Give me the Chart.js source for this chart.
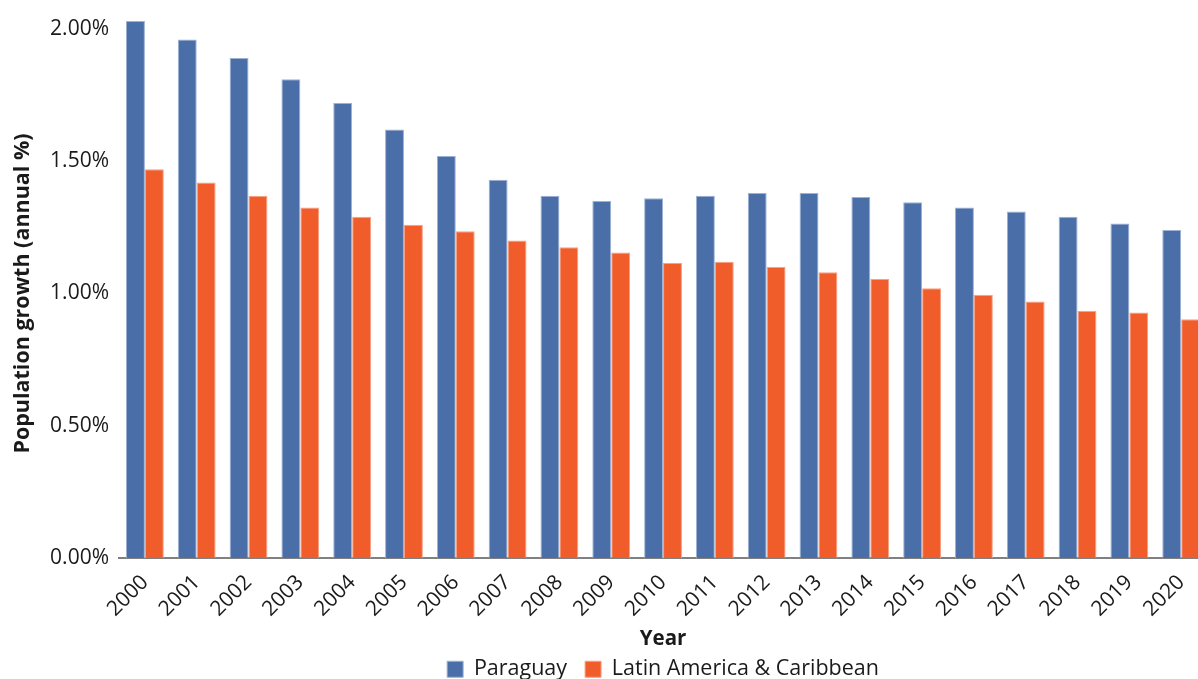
<!DOCTYPE html>
<html>
<head>
<meta charset="utf-8">
<script src="https://cdn.jsdelivr.net/npm/chart.js@4/dist/chart.umd.min.js"></script>
<style>
  html, body { margin: 0; padding: 0; background: #ffffff; overflow: hidden; width: 1198px; height: 679px; }
  #wrap { position: relative; width: 1211px; height: 690px; }
</style>
</head>
<body>
<div id="wrap"><canvas id="chart" width="1211" height="690"></canvas></div>
<script>
// Annual population growth, 2000–2020 (%)
const years = ['2000','2001','2002','2003','2004','2005','2006','2007','2008','2009','2010',
               '2011','2012','2013','2014','2015','2016','2017','2018','2019','2020'];
const paraguay = [2.03, 1.96, 1.89, 1.81, 1.72, 1.62, 1.52, 1.43, 1.37, 1.35, 1.36,
                  1.37, 1.38, 1.38, 1.365, 1.345, 1.325, 1.31, 1.29, 1.265, 1.24];
const latinAmerica = [1.47, 1.42, 1.37, 1.325, 1.29, 1.26, 1.235, 1.20, 1.175, 1.155, 1.115,
                      1.12, 1.10, 1.08, 1.055, 1.02, 0.995, 0.97, 0.935, 0.928, 0.903];
const yTicks = [0, 0.5, 1.0, 1.5, 2.0];

const FONT = '"Open Sans", "DejaVu Sans", sans-serif';
const TEXT = '#1a1a1a';
const PLOT_TOP = 29;           // pixel row of the 2.00% line
const PLOT_BOTTOM = 558;       // pixel row of the zero line
const LEGEND_FONT = 21.5;
const LEGEND_PAD = 18;
const LEGEND_BOX = 16;
// height the legend takes: one row of items plus its padding
const LEGEND_H = Math.max(LEGEND_FONT, LEGEND_BOX) + LEGEND_PAD + 10;

new Chart(document.getElementById('chart'), {
  type: 'bar',
  data: {
    labels: years,
    datasets: [
      {
        label: 'Paraguay',
        data: paraguay,
        backgroundColor: '#4a6ea8',
        borderColor: '#9db1d3',
        borderWidth: 1,
        borderSkipped: 'bottom',
        clip: false
      },
      {
        label: 'Latin America & Caribbean',
        data: latinAmerica,
        backgroundColor: '#f15c2b',
        borderColor: '#f7a083',
        borderWidth: 1,
        borderSkipped: 'bottom',
        clip: false
      }
    ]
  },
  options: {
    responsive: false,
    animation: false,
    devicePixelRatio: 1,
    layout: { padding: { top: PLOT_TOP, left: 0, right: 0, bottom: 0 } },
    datasets: { bar: { categoryPercentage: 0.73, barPercentage: 1.0 } },
    plugins: {
      tooltip: { enabled: false },
      legend: {
        position: 'bottom',
        fullSize: false,
        labels: {
          boxWidth: LEGEND_BOX,
          boxHeight: LEGEND_BOX,
          padding: LEGEND_PAD,
          color: TEXT,
          font: { family: FONT, size: LEGEND_FONT }
        }
      }
    },
    scales: {
      x: {
        grid: { display: false, drawTicks: false },
        border: { display: true, color: '#808080', width: 2 },
        ticks: {
          color: TEXT,
          font: { family: FONT, size: 21 },
          minRotation: 45,
          maxRotation: 45,
          padding: 12,
          autoSkip: false
        },
        title: {
          display: true,
          text: 'Year',
          color: TEXT,
          font: { family: FONT, size: 20.5, weight: 'bold' },
          padding: { top: 0, bottom: -11 }
        },
        afterFit(scale) {
          scale.height = scale.chart.height - LEGEND_H - PLOT_BOTTOM;
        }
      },
      y: {
        min: 0,
        max: 2.0,
        grid: { display: false, drawTicks: false },
        border: { display: false },
        ticks: {
          stepSize: 0.5,
          color: TEXT,
          font: { family: FONT, size: 21 },
          padding: 10,
          callback: (v) => Number(v).toFixed(2) + '%'
        },
        afterBuildTicks(scale) {
          scale.ticks = yTicks.map(v => ({ value: v }));
        },
        title: {
          display: true,
          text: 'Population growth (annual %)',
          color: TEXT,
          font: { family: FONT, size: 21.5, weight: 'bold' },
          padding: { top: 10, bottom: 0 }
        },
        afterFit(scale) {
          scale.width = 119;
          scale.paddingTop = 0;
          scale.paddingBottom = 0;
        }
      }
    }
  }
});
</script>
</body>
</html>
